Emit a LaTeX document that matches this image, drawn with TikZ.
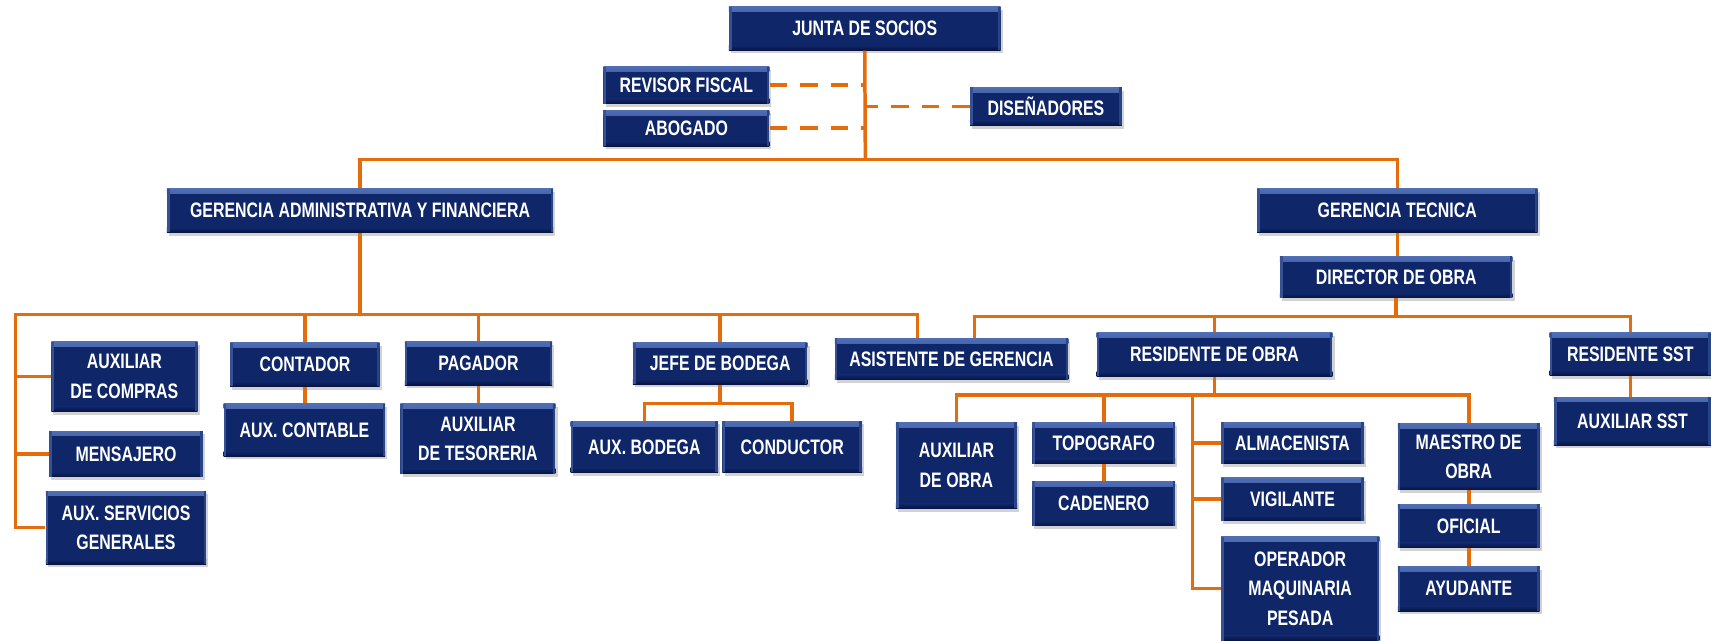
\documentclass[tikz,border=0pt]{standalone}
\usepackage{fontspec}
\newfontfamily\orgfont{Liberation Sans}[FakeStretch=0.76]
\usetikzlibrary{shadows}
\definecolor{boxblue}{RGB}{15,38,105}
\definecolor{boxtop}{RGB}{80,110,180}
\definecolor{boxbot}{RGB}{6,20,66}
\definecolor{orgline}{RGB}{228,108,10}
\tikzset{
  orgnode/.style={fill=boxblue, inner sep=0pt, align=center, text=white,
    font=\orgfont\bfseries\fontsize{9.6}{13.5}\selectfont,
    drop shadow={shadow xshift=1pt, shadow yshift=-1.5pt, opacity=0.35},
    path picture={
      \shade[top color=boxtop, bottom color=boxblue] (path picture bounding box.north west) rectangle ([yshift=-2.2pt]path picture bounding box.north east);
      \shade[top color=boxblue, bottom color=boxbot] ([yshift=2.2pt]path picture bounding box.south west) rectangle (path picture bounding box.south east);
      \fill[boxtop!60!boxblue] (path picture bounding box.north west) rectangle ([xshift=1.2pt]path picture bounding box.south west);
      \fill[boxtop!40!boxblue] (path picture bounding box.north east) rectangle ([xshift=-1.2pt]path picture bounding box.south east);
    }},
  conn/.style={draw=orgline, line width=1.6pt},
  dconn/.style={draw=orgline, line width=1.6pt, dash pattern=on 8pt off 6pt}
}
\newcommand{\orgbox}[6]{%
  \pgfmathsetmacro{\obcx}{(#2+#4)/2}%
  \pgfmathsetmacro{\obcy}{(#3+#5)/2}%
  \pgfmathsetmacro{\obw}{(#4-#2)*0.5}%
  \pgfmathsetmacro{\obh}{(#5-#3)*0.5}%
  \node[orgnode, minimum width=\obw pt, minimum height=\obh pt] (#1) at (\obcx,\obcy) {#6};}
\begin{document}
\begin{tikzpicture}[x=0.5pt, y=-0.5pt]
\useasboundingbox[fill=white] (0,0) rectangle (1568,587);
% boxes
\orgbox{junta}{668}{6}{917}{46}{JUNTA DE SOCIOS}
\orgbox{rev}{553}{61}{705}{95}{REVISOR FISCAL}
\orgbox{abo}{553}{101}{705}{134}{ABOGADO}
\orgbox{dis}{889}{80}{1028}{115}{DISEÑADORES}
\orgbox{gaf}{153}{173}{507}{213}{GERENCIA ADMINISTRATIVA Y FINANCIERA}
\orgbox{gt}{1152}{173}{1409}{213}{GERENCIA TECNICA}
\orgbox{dir}{1173}{235}{1386}{273}{DIRECTOR DE OBRA}
\orgbox{auxc}{47}{313}{181}{377}{AUXILIAR\\DE COMPRAS}
\orgbox{mens}{45}{395}{186}{437}{MENSAJERO}
\orgbox{auxs}{42}{450}{189}{517}{AUX. SERVICIOS\\GENERALES}
\orgbox{cont}{211}{314}{348}{354}{CONTADOR}
\orgbox{auxcont}{205}{370}{353}{418}{AUX. CONTABLE}
\orgbox{pag}{371}{313}{506}{353}{PAGADOR}
\orgbox{auxtes}{367}{370}{509}{434}{AUXILIAR\\DE TESORERIA}
\orgbox{jefe}{580}{314}{740}{352}{JEFE DE BODEGA}
\orgbox{auxb}{523}{386}{658}{433}{AUX. BODEGA}
\orgbox{cond}{662}{386}{790}{433}{CONDUCTOR}
\orgbox{asis}{765}{310}{979}{348}{ASISTENTE DE GERENCIA}
\orgbox{resob}{1005}{305}{1221}{345}{RESIDENTE DE OBRA}
\orgbox{ressst}{1420}{305}{1568}{344}{RESIDENTE SST}
\orgbox{auxsst}{1424}{364}{1568}{408}{AUXILIAR SST}
\orgbox{auxob}{821}{387}{932}{466}{AUXILIAR\\DE OBRA}
\orgbox{topo}{946}{387}{1077}{425}{TOPOGRAFO}
\orgbox{cad}{946}{441}{1077}{482}{CADENERO}
\orgbox{alm}{1119}{387}{1250}{425}{ALMACENISTA}
\orgbox{vig}{1119}{438}{1250}{477}{VIGILANTE}
\orgbox{oper}{1119}{492}{1264}{587}{OPERADOR\\MAQUINARIA\\PESADA}
\orgbox{mae}{1281}{388}{1411}{449}{MAESTRO DE\\OBRA}
\orgbox{ofi}{1281}{462}{1411}{502}{OFICIAL}
\orgbox{ayu}{1281}{519}{1411}{560}{AYUDANTE}
% top level
\coordinate (b0) at (793,146);
\draw[conn] (junta.south) -- (b0);
\draw[conn] (gaf.north) |- (b0) -| (gt.north);
\draw[dconn] (rev.east) -- (rev.east -| b0);
\draw[dconn] (abo.east) -- (abo.east -| b0);
\draw[dconn] (dis.west) -- (dis.west -| b0);
% administrative branch
\coordinate (b1l) at (14,288);
\coordinate (b1r) at (841,288);
\draw[conn] (gaf.south) -- (gaf.south |- b1l);
\draw[conn] (auxs.west) -| (b1l) -- (b1r) -- (b1r |- asis.north);
\draw[conn] (auxc.west) -| (b1l);
\draw[conn] (mens.west) -| (b1l);
\draw[conn] (cont.north) -- (cont.north |- b1l);
\draw[conn] (pag.north) -- (pag.north |- b1l);
\draw[conn] (jefe.north) -- (jefe.north |- b1l);
\draw[conn] (cont.south) -- (cont.south |- auxcont.north);
\draw[conn] (pag.south) -- (pag.south |- auxtes.north);
\coordinate (jb) at (660,370);
\draw[conn] (jefe.south) -- (jb);
\draw[conn] (auxb.north) |- (jb) -| (cond.north);
% technical branch
\coordinate (b2l) at (893,290);
\coordinate (b2r) at (1494,290);
\draw[conn] (gt.south) -- (gt.south |- dir.north);
\draw[conn] (dir.south) -- (dir.south |- b2l);
\draw[conn] (b2l |- asis.north) -- (b2l) -- (b2r) -- (ressst.north);
\draw[conn] (resob.north) -- (resob.north |- b2l);
\draw[conn] (ressst.south) -- (ressst.south |- auxsst.north);
\coordinate (b3) at (1093,362);
\draw[conn] (resob.south) -- (resob.south |- b3);
\draw[conn] (auxob.north) |- (b3) -| (mae.north);
\draw[conn] (topo.north) -- (topo.north |- b3);
\draw[conn] (b3) |- (alm.west);
\draw[conn] (b3) |- (vig.west);
\draw[conn] (b3) |- (oper.west);
\draw[conn] (topo.south) -- (topo.south |- cad.north);
\draw[conn] (mae.south) -- (mae.south |- ofi.north);
\draw[conn] (ofi.south) -- (ofi.south |- ayu.north);
\end{tikzpicture}
\end{document}
